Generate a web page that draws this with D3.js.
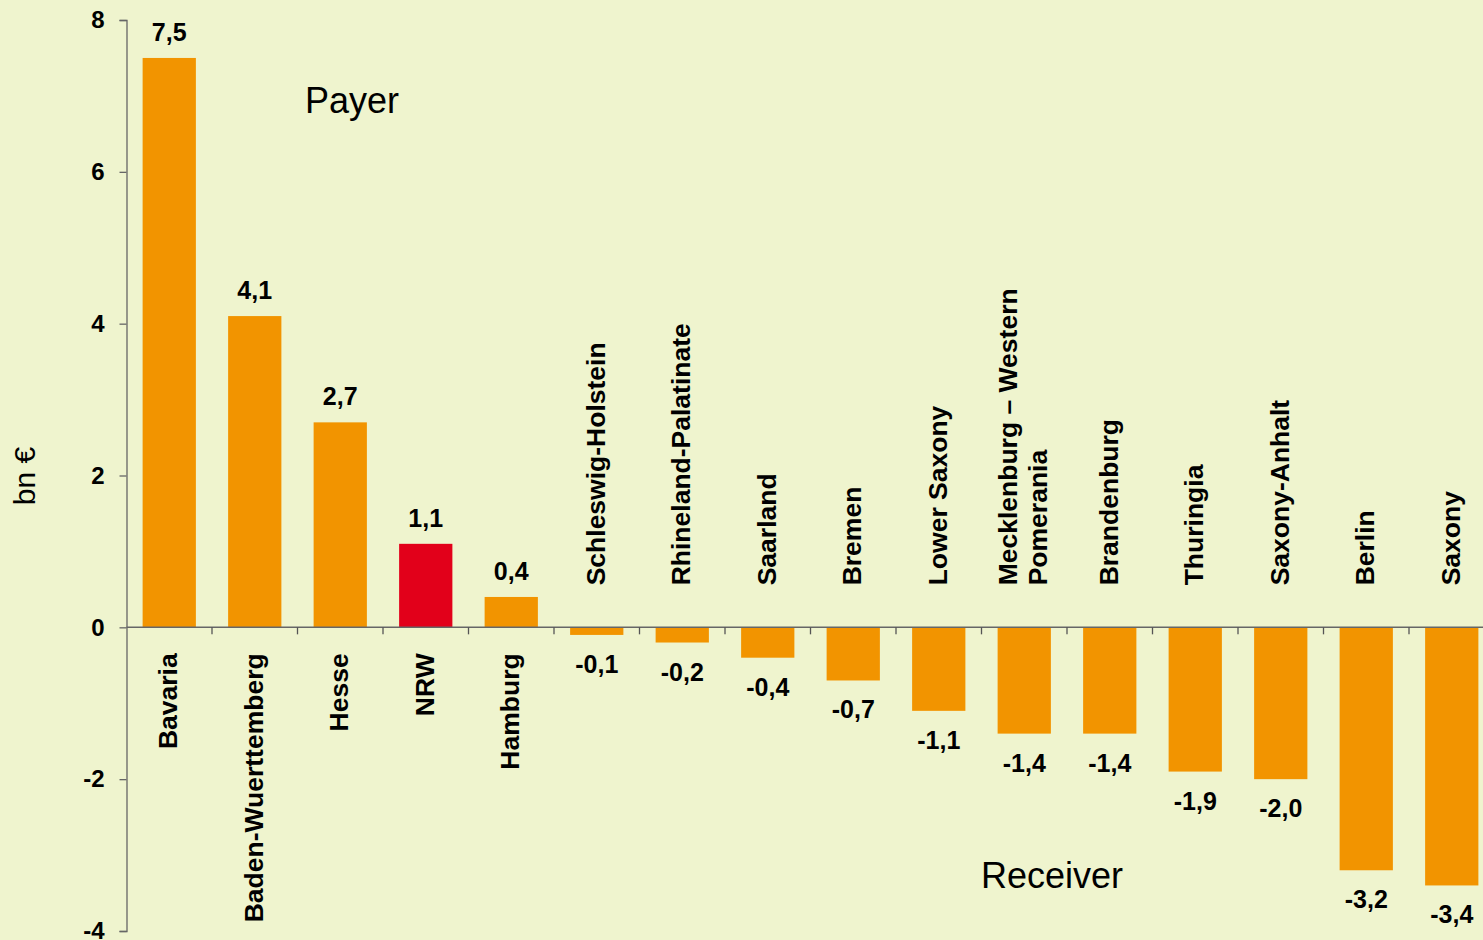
<!DOCTYPE html>
<html>
<head>
<meta charset="utf-8">
<script src="https://cdn.jsdelivr.net/npm/d3@7"></script>
<style>
  html, body { margin: 0; padding: 0; background: #eff4ce; overflow: hidden; }
  svg { display: block; font-family: Arial, "Liberation Sans", sans-serif; }
</style>
</head>
<body>
<div id="chart"></div>
<script>
// Datos
const states = ["Bavaria", "Baden-Wuerttemberg", "Hesse", "NRW", "Hamburg",
  "Schleswig-Holstein", "Rhineland-Palatinate", "Saarland", "Bremen", "Lower Saxony",
  "Mecklenburg – Western\nPomerania", "Brandenburg", "Thuringia", "Saxony-Anhalt", "Berlin", "Saxony"];
const balance = [7.5, 4.1, 2.7, 1.1, 0.4, -0.1, -0.2, -0.4, -0.7, -1.1, -1.4, -1.4, -1.9, -2.0, -3.2, -3.4];
const highlight = "NRW";
const yTicks = [8, 6, 4, 2, 0, -2, -4];

const W = 1483, H = 940;
const plotLeft = 126.5, plotTop = 20, plotBottom = 931;

const svg = d3.select("#chart").append("svg")
  .attr("width", W)
  .attr("height", H);

svg.append("rect").attr("width", W).attr("height", H).attr("fill", "#eff4ce");

// Escalas
const x = d3.scaleBand()
  .domain(states)
  .range([plotLeft, plotLeft + 16 * 85.5])
  .paddingInner(0.377)
  .paddingOuter(0.1885);

const y = d3.scaleLinear()
  .domain([-4, 8])
  .range([plotBottom, plotTop]);

const fmt = v => d3.format(".1f")(v).replace(".", ",").replace("−", "-");
const step = x.step();
const gap = step * 0.1885;

// Barras
svg.selectAll("rect.bar")
  .data(states)
  .enter()
  .append("rect")
  .attr("class", "bar")
  .attr("x", d => x(d))
  .attr("width", x.bandwidth())
  .attr("y", (d, i) => y(Math.max(0, balance[i])))
  .attr("height", (d, i) => Math.abs(y(balance[i]) - y(0)))
  .attr("fill", d => d === highlight ? "#e2001a" : "#f29400");

// Eje Y
const yAxis = svg.append("g")
  .attr("transform", `translate(${plotLeft},0)`)
  .call(d3.axisLeft(y).tickValues(yTicks).tickSize(7).tickPadding(15).tickFormat(d => d));
yAxis.select(".domain").attr("stroke", "#666").attr("stroke-width", 1.3);
yAxis.selectAll(".tick line").attr("stroke", "#666").attr("stroke-width", 1.3);
yAxis.selectAll("text")
  .style("font-size", "24px")
  .style("font-weight", "bold")
  .style("font-family", "Arial, 'Liberation Sans', sans-serif")
  .attr("fill", "#000");

// Línea cero y marcas entre categorías
svg.append("line")
  .attr("x1", plotLeft).attr("x2", W)
  .attr("y1", y(0)).attr("y2", y(0))
  .attr("stroke", "#666").attr("stroke-width", 1.5);
svg.selectAll("line.sep")
  .data(states.slice(1))
  .enter()
  .append("line")
  .attr("class", "sep")
  .attr("x1", d => x(d) - gap)
  .attr("x2", d => x(d) - gap)
  .attr("y1", y(0))
  .attr("y2", y(0) + 7)
  .attr("stroke", "#555")
  .attr("stroke-width", 1.3);

// Etiquetas de valores
svg.selectAll("text.val")
  .data(states)
  .enter()
  .append("text")
  .attr("class", "val")
  .attr("x", d => x(d) + x.bandwidth() / 2)
  .attr("y", (d, i) => balance[i] >= 0 ? y(balance[i]) - 17 : y(balance[i]) + 38)
  .attr("text-anchor", "middle")
  .attr("font-size", 25)
  .attr("font-weight", "bold")
  .text((d, i) => fmt(balance[i]));

// Nombres de los estados (rotados)
const names = svg.selectAll("text.state")
  .data(states)
  .enter()
  .append("text")
  .attr("class", "state")
  .attr("font-size", 26.5)
  .attr("font-weight", "bold")
  .attr("transform", (d, i) => {
    const cx = x(d) + x.bandwidth() / 2;
    const yy = balance[i] >= 0 ? y(0) + 26 : y(0) - 42;
    return `translate(${cx},${yy}) rotate(-90)`;
  })
  .attr("text-anchor", (d, i) => balance[i] >= 0 ? "end" : "start");

names.each(function(d) {
  const lines = d.split("\n");
  const t = d3.select(this);
  lines.forEach((ln, j) => {
    t.append("tspan")
      .attr("x", 0)
      .attr("y", 8 + (j - (lines.length - 1) / 2) * 30)
      .text(ln);
  });
});

// Título del eje Y
svg.append("text")
  .attr("transform", `translate(35,476) rotate(-90)`)
  .attr("text-anchor", "middle")
  .attr("font-size", 30)
  .text("bn €");

// Anotaciones
svg.append("text")
  .attr("x", 305).attr("y", 113)
  .attr("font-size", 36)
  .text("Payer");

svg.append("text")
  .attr("x", 981).attr("y", 888)
  .attr("font-size", 36)
  .text("Receiver");
</script>
</body>
</html>
